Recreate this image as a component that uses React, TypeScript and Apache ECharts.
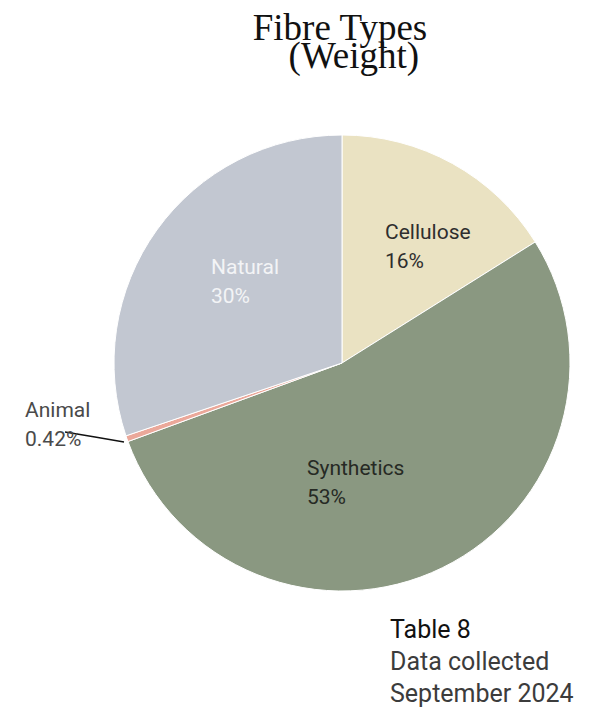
import React, { useEffect, useRef } from "react";
import * as echarts from "echarts";

// Fibre composition by weight (%)
const categories = ["Cellulose", "Synthetics", "Animal", "Natural"];
const shares = [16, 53, 0.42, 30];
const sliceColors = ["#EAE2C2", "#8A9881", "#EBA89A", "#C2C7D1"];
const labelColors = ["#2E2E2E", "#262A24", "#4A4A4A", "#F3F4F6"];

// top-left anchor of each slice's label block
const labelAnchors: number[][] = [
  [385, 217],
  [307, 453],
  [25, 395],
  [211, 252],
];

const titleText = "Fibre Types\n   (Weight)";
const noteLines = ["Table 8", "Data collected", "September 2024"];

export default function App() {
  const ref = useRef<HTMLDivElement>(null);

  useEffect(() => {
    if (!ref.current) return;
    const chart = echarts.init(ref.current, undefined, { renderer: "svg" });

    const data = categories.map((name, i) => ({
      name,
      value: shares[i],
      itemStyle: { color: sliceColors[i] },
      label: { color: labelColors[i] },
      labelLine: { show: name === "Animal" },
    }));

    chart.setOption({
      animation: false,
      backgroundColor: "#ffffff",
      graphic: [
        {
          type: "text",
          x: 340,
          y: 41,
          style: {
            text: titleText,
            font: "37px 'Liberation Serif', serif",
            lineHeight: 28,
            fill: "#111111",
            textAlign: "center",
            textVerticalAlign: "middle",
          },
        },
        ...noteLines.map((t, i) => ({
          type: "text",
          x: 390,
          y: 629 + i * 32,
          style: {
            text: t,
            font: "25px Roboto, sans-serif",
            fill: i === 0 ? "#111111" : "#3C3C3C",
            textAlign: "left",
            textVerticalAlign: "middle",
          },
        })),
      ],
      series: [
        {
          type: "pie",
          center: [342, 363],
          radius: [0, 228],
          startAngle: 90,
          clockwise: true,
          avoidLabelOverlap: false,
          itemStyle: { borderColor: "#ffffff", borderWidth: 1 },
          label: {
            show: true,
            position: "outside",
            formatter: "{b}\n{c}%",
            fontFamily: "Roboto, sans-serif",
            fontSize: 21,
            lineHeight: 29,
            align: "left",
          },
          labelLine: {
            show: true,
            lineStyle: { color: "#111111", width: 1.3 },
          },
          labelLayout: (params: any) => {
            const p = labelAnchors[params.dataIndex];
            const out: any = {
              x: p[0],
              y: p[1],
              align: "left",
              verticalAlign: "top",
            };
            if (params.dataIndex === 2) {
              out.labelLinePoints = [
                [124, 442],
                [95, 437],
                [65, 432],
              ];
            }
            return out;
          },
          emphasis: { disabled: true },
          data,
        },
      ],
    });

    return () => chart.dispose();
  }, []);

  return (
    <div
      ref={ref}
      style={{ position: "fixed", left: 0, top: 0, width: 591, height: 711 }}
    />
  );
}
